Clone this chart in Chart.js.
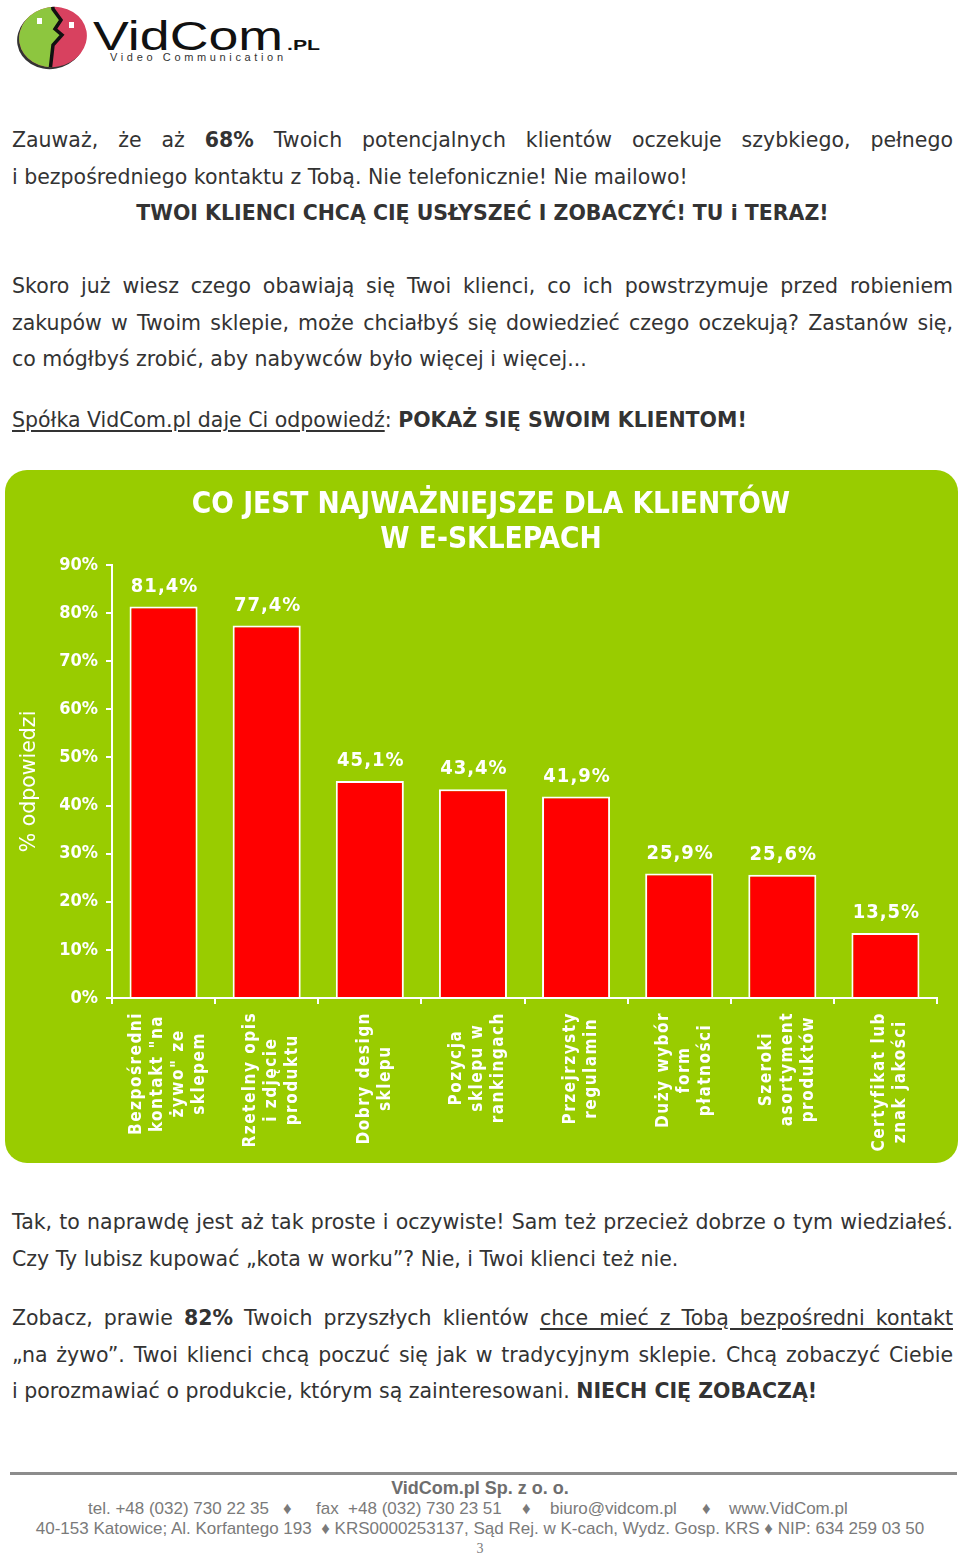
<!DOCTYPE html>
<html>
<head>
<meta charset="utf-8">
<script src="https://cdn.jsdelivr.net/npm/chart.js@4.4.1/dist/chart.umd.min.js"></script>
<style>
html, body { margin: 0; padding: 0; background: #fff; }
body { width: 960px; height: 1555px; position: relative; overflow: hidden;
       font-family: "DejaVu Sans", Verdana, sans-serif; color: #333; }
.txt { position: absolute; left: 12px; width: 941px; font-size: 20.5px; line-height: 36.5px; }
.txt div { white-space: nowrap; }
.txt .j { text-align: justify; text-align-last: justify; }
.txt .c { text-align: center; font-weight: bold; }
u { text-underline-offset: 3px; }
#box { position: absolute; left: 5px; top: 470px; width: 953px; height: 693px;
       background: #99cc00; border-radius: 22px; overflow: hidden; }
#bar-chart { position: absolute; left: 11px; top: 0; }
#foot { position: absolute; left: 0; width: 960px; top: 1472px; font-family: "Liberation Sans", Arial, sans-serif;
        color: #7a7a7a; text-align: center; }
#foot hr { margin: 0 3px 0 10px; border: 0; height: 3px; background: #8c8c8c; }
#foot div { white-space: pre; font-size: 17px; line-height: 20.5px; position: relative; height: 20.5px; }
#foot .tel span { position: absolute; top: 0; }
</style>
</head>
<body>

<svg width="330" height="72" style="position:absolute;left:0;top:0">
  <defs>
    <clipPath id="oval"><ellipse cx="53" cy="37" rx="34" ry="30" transform="rotate(-10 53 37)"/></clipPath>
  </defs>
  <ellipse cx="51" cy="39" rx="34" ry="30" transform="rotate(-10 51 39)" fill="#333"/>
  <g clip-path="url(#oval)">
    <rect x="0" y="0" width="120" height="80" fill="#d8415f"/>
    <path d="M0 0 L52 0 L53 9 L61 20 L55 29 L62 35 L53 45 L49 80 L0 80 Z" fill="#8dc63f"/>
    <path d="M52 0 L53 9 L61 20 L55 29 L62 35 L53 45 L49 80" stroke="#111" stroke-width="3.5" fill="none"/>
  </g>
  <rect x="37" y="18" width="5" height="6" fill="#fff"/>
  <rect x="69" y="22" width="5" height="6" fill="#fff"/>
  <text x="93" y="50" font-family="Liberation Sans, Arial" font-size="40" textLength="190" lengthAdjust="spacingAndGlyphs" fill="#111">VidCom</text>
  <text x="287" y="50" font-family="Liberation Sans, Arial" font-weight="bold" font-size="14" textLength="33" lengthAdjust="spacingAndGlyphs" fill="#111">.PL</text>
  <text x="110" y="61" font-family="Liberation Sans, Arial" font-size="11" textLength="173" lengthAdjust="spacing" fill="#333">Video Communication</text>
</svg>

<div class="txt" style="top:122px">
  <div class="j">Zauważ, że aż <b>68%</b> Twoich potencjalnych klientów oczekuje szybkiego, pełnego</div>
  <div>i bezpośredniego kontaktu z Tobą. Nie telefonicznie! Nie mailowo!</div>
  <div class="c">TWOI KLIENCI CHCĄ CIĘ USŁYSZEĆ I ZOBACZYĆ! TU i TERAZ!</div>
</div>
<div class="txt" style="top:268px">
  <div class="j">Skoro już wiesz czego obawiają się Twoi klienci, co ich powstrzymuje przed robieniem</div>
  <div class="j">zakupów w Twoim sklepie, może chciałbyś się dowiedzieć czego oczekują? Zastanów się,</div>
  <div>co mógłbyś zrobić, aby nabywców było więcej i więcej...</div>
</div>
<div class="txt" style="top:402px">
  <div><u>Spółka VidCom.pl daje Ci odpowiedź</u>: <b>POKAŻ SIĘ SWOIM KLIENTOM!</b></div>
</div>

<div id="box"><canvas id="bar-chart" width="950" height="693"></canvas></div>

<div class="txt" style="top:1204px">
  <div class="j">Tak, to naprawdę jest aż tak proste i oczywiste! Sam też przecież dobrze o tym wiedziałeś.</div>
  <div>Czy Ty lubisz kupować „kota w worku”? Nie, i Twoi klienci też nie.</div>
</div>
<div class="txt" style="top:1300px">
  <div class="j">Zobacz, prawie <b>82%</b> Twoich przyszłych klientów <u>chce mieć z Tobą bezpośredni kontakt</u></div>
  <div class="j">„na żywo”. Twoi klienci chcą poczuć się jak w tradycyjnym sklepie. Chcą zobaczyć Ciebie</div>
  <div>i porozmawiać o produkcie, którym są zainteresowani. <b>NIECH CIĘ ZOBACZĄ!</b></div>
</div>

<div id="foot">
  <hr>
  <div style="margin-top:3px;font-weight:bold;font-size:18px;color:#6e6e6e">VidCom.pl Sp. z o. o.</div>
  <div class="tel"><span style="left:88px">tel. +48 (032) 730 22 35</span><span style="left:283px">♦</span><span style="left:316px">fax  +48 (032) 730 23 51</span><span style="left:522px">♦</span><span style="left:550px">biuro@vidcom.pl</span><span style="left:702px">♦</span><span style="left:729px">www.VidCom.pl</span></div>
  <div>40-153 Katowice; Al. Korfantego 193  ♦ KRS0000253137, Sąd Rej. w K-cach, Wydz. Gosp. KRS ♦ NIP: 634 259 03 50</div>
  <div style="font-family:'Liberation Serif',serif;font-size:14px;line-height:18px">3</div>
</div>

<script>
var chartTitle = ["CO JEST NAJWAŻNIEJSZE DLA KLIENTÓW", "W E-SKLEPACH"];
var axisTitle = "% odpowiedzi";
var categories = [
    ["Bezpośredni", "kontakt \"na", "żywo\" ze", "sklepem"],
    ["Rzetelny opis", "i zdjęcie", "produktu"],
    ["Dobry design", "sklepu"],
    ["Pozycja", "sklepu w", "rankingach"],
    ["Przejrzysty", "regulamin"],
    ["Duży wybór", "form", "płatności"],
    ["Szeroki", "asortyment", "produktów"],
    ["Certyfikat lub", "znak jakości"]
];
var answers = [81.4, 77.4, 45.1, 43.4, 41.9, 25.9, 25.6, 13.5];
var yMax = 90;
var yStep = 10;

var chartFont = "'DejaVu Sans Condensed', 'DejaVu Sans', sans-serif";

// two-line heading, centred on the whole green panel
var panelTitle = {
    id: "panelTitle",
    afterDraw: function(chart) {
        var ctx = chart.ctx;
        ctx.save();
        ctx.fillStyle = "#fff";
        ctx.font = "bold 29.5px " + chartFont;
        ctx.textAlign = "center";
        ctx.textBaseline = "middle";
        for (var i = 0; i < chartTitle.length; i++) {
            ctx.fillText(chartTitle[i], chart.width / 2, 35 + i * 35);
        }
        ctx.restore();
    }
};

// percentages above the bars, with a comma as decimal mark
var valueLabels = {
    id: "valueLabels",
    afterDatasetsDraw: function(chart) {
        var ctx = chart.ctx;
        var bars = chart.getDatasetMeta(0).data;
        ctx.save();
        ctx.fillStyle = "#fff";
        ctx.font = "bold 20px " + chartFont;
        ctx.textAlign = "center";
        ctx.textBaseline = "middle";
        ctx.letterSpacing = "1px";
        for (var i = 0; i < bars.length; i++) {
            ctx.fillText(String(answers[i]).replace(".", ",") + "%", bars[i].x + 1, bars[i].y - 20);
        }
        ctx.restore();
    }
};

// category names, turned upright and centred line by line under each category
var categoryLabels = {
    id: "categoryLabels",
    afterDraw: function(chart) {
        var ctx = chart.ctx;
        var xScale = chart.scales.x;
        ctx.save();
        ctx.fillStyle = "#fff";
        ctx.font = "bold 17px " + chartFont;
        ctx.letterSpacing = "1.5px";
        ctx.textAlign = "center";
        ctx.textBaseline = "middle";
        for (var i = 0; i < categories.length; i++) {
            var lines = categories[i];
            var widest = 0;
            for (var k = 0; k < lines.length; k++) {
                widest = Math.max(widest, ctx.measureText(lines[k]).width);
            }
            var cx = xScale.getPixelForValue(i) + 5;
            var cy = xScale.top + 14 + widest / 2;
            for (var k = 0; k < lines.length; k++) {
                ctx.save();
                ctx.translate(cx + (k - (lines.length - 1) / 2) * 21, cy);
                ctx.rotate(-Math.PI / 2);
                ctx.fillText(lines[k], 0, 0);
                ctx.restore();
            }
        }
        ctx.restore();
    }
};

new Chart(document.getElementById("bar-chart"), {
    type: "bar",
    data: {
        labels: categories,
        datasets: [{
            data: answers,
            backgroundColor: "#ff0000",
            borderColor: "#ffffff",
            borderWidth: 2,
            borderSkipped: "bottom",
            barPercentage: 0.66,
            categoryPercentage: 1
        }]
    },
    options: {
        responsive: false,
        animation: false,
        layout: { padding: { left: 0, right: 29, top: 95, bottom: 0 } },
        plugins: {
            legend: { display: false },
            tooltip: { enabled: false },
            title: { display: false }
        },
        scales: {
            x: {
                grid: { drawOnChartArea: false, color: "#fff", lineWidth: 2, tickLength: 6 },
                border: { color: "#fff", width: 2 },
                ticks: { display: false },
                afterFit: function(scale) { scale.height = 165; }
            },
            y: {
                min: 0,
                max: yMax,
                grid: { drawOnChartArea: false, color: "#fff", lineWidth: 2, tickLength: 6 },
                border: { color: "#fff", width: 2 },
                ticks: {
                    stepSize: yStep,
                    color: "#fff",
                    padding: 8,
                    font: { family: chartFont, size: 18, weight: "bold" },
                    callback: function(v) { return v + "%"; }
                },
                title: {
                    display: true,
                    text: axisTitle,
                    color: "#fff",
                    font: { family: "'DejaVu Sans', sans-serif", size: 20.5 },
                    padding: { top: 1, bottom: 0 }
                },
                afterFit: function(scale) { scale.width = 96; }
            }
        }
    },
    plugins: [valueLabels, categoryLabels, panelTitle]
});
</script>
</body>
</html>
